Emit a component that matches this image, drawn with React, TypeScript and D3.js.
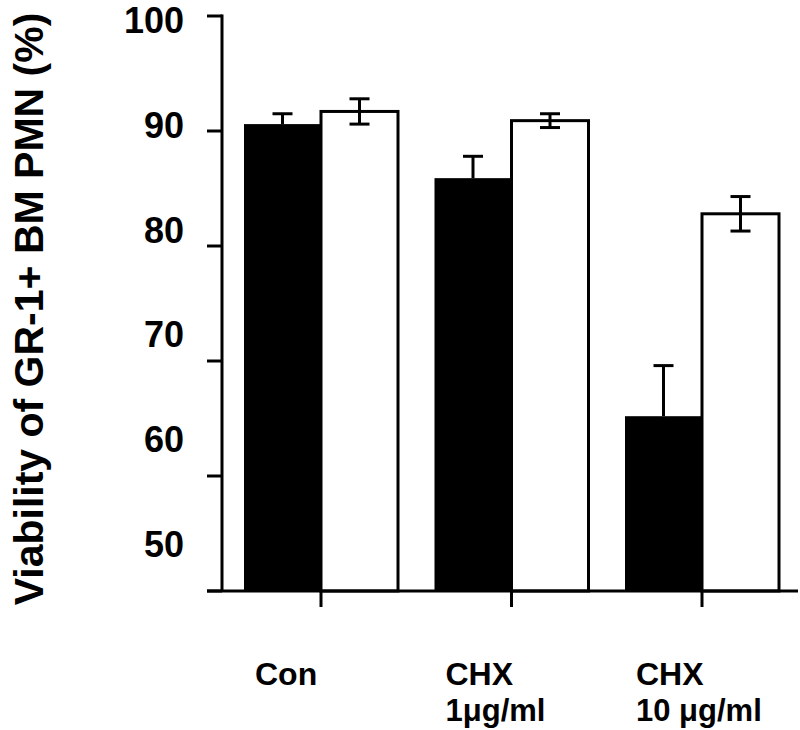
import React from "react";
import * as d3 from "d3";

const categories = ["Con", "CHX 1", "CHX 10"];
const labelLine1 = ["Con", "CHX", "CHX"];
const labelLine2 = ["", "1\u03bcg/ml", "10 \u03bcg/ml"];
const blackValues = [90.6, 85.9, 65.2];
const blackErrors = [0.9, 1.9, 4.4];
const whiteValues = [91.7, 90.9, 82.8];
const whiteErrors = [1.1, 0.6, 1.5];
const yTicks = [50, 60, 70, 80, 90, 100];
const yTitle = "Viability of GR-1+ BM PMN (%)";

const W = 800;
const H = 730;
const FONT = "'Liberation Sans', Arial, Helvetica, sans-serif";

export default function App() {
  const y = d3.scaleLinear().domain([50, 100]).range([591, 16]);
  // tick labels in the original are spaced slightly tighter than the ticks
  const yLabel = d3.scaleLinear().domain([50, 100]).range([544, 20]);
  const x = d3.scalePoint<string>().domain(categories).range([321, 702]);
  const barW = 77;
  const axisX = 222;
  const tickLen = 15;
  const capW = 20;
  const sw = 3;

  return (
    <svg
      width={W}
      height={H}
      style={{ position: "absolute", left: 0, top: 0, background: "#fff" }}
      fontFamily={FONT}
    >
      <rect x={0} y={0} width={W} height={H} fill="#fff" />
      {/* Y title */}
      <text
        transform={`translate(43, 309) rotate(-90)`}
        textAnchor="middle"
        fontSize={41}
        fontWeight="bold"
        fill="#000"
      >
        {yTitle}
      </text>
      {/* y tick labels */}
      {yTicks.map((t) => (
        <text
          key={"yl" + t}
          x={184}
          y={yLabel(t)}
          dy="0.36em"
          textAnchor="end"
          fontSize={36}
          fontWeight="bold"
          fill="#000"
        >
          {t}
        </text>
      ))}
      {/* bars: black */}
      {categories.map((c, i) => {
        const cx = x(c)!;
        const top = y(blackValues[i]);
        const errTop = y(blackValues[i] + blackErrors[i]);
        const ex = cx - barW / 2;
        return (
          <g key={"b" + c}>
            <rect x={cx - barW} y={top} width={barW} height={y(50) - top} fill="#000" />
            <line x1={ex} x2={ex} y1={top} y2={errTop} stroke="#000" strokeWidth={sw} />
            <line x1={ex - capW / 2} x2={ex + capW / 2} y1={errTop} y2={errTop} stroke="#000" strokeWidth={sw} />
          </g>
        );
      })}
      {/* bars: white */}
      {categories.map((c, i) => {
        const cx = x(c)!;
        const top = y(whiteValues[i]);
        const errTop = y(whiteValues[i] + whiteErrors[i]);
        const errBot = y(whiteValues[i] - whiteErrors[i]);
        const ex = cx + barW / 2;
        return (
          <g key={"w" + c}>
            <rect
              x={cx}
              y={top}
              width={barW}
              height={y(50) - top}
              fill="#fff"
              stroke="#000"
              strokeWidth={sw}
            />
            <line x1={ex} x2={ex} y1={errBot} y2={errTop} stroke="#000" strokeWidth={sw} />
            <line x1={ex - capW / 2} x2={ex + capW / 2} y1={errTop} y2={errTop} stroke="#000" strokeWidth={sw} />
            <line x1={ex - capW / 2} x2={ex + capW / 2} y1={errBot} y2={errBot} stroke="#000" strokeWidth={sw} />
          </g>
        );
      })}
      {/* y axis */}
      <line x1={axisX} x2={axisX} y1={y(100) - 1.5} y2={y(50)} stroke="#000" strokeWidth={sw} />
      {yTicks.map((t) => (
        <line
          key={"yt" + t}
          x1={axisX - tickLen}
          x2={axisX}
          y1={y(t)}
          y2={y(t)}
          stroke="#000"
          strokeWidth={sw}
        />
      ))}
      {/* x axis */}
      <line x1={axisX - tickLen} x2={798} y1={y(50)} y2={y(50)} stroke="#000" strokeWidth={sw} />
      {categories.map((c) => (
        <line
          key={"xt" + c}
          x1={x(c)!}
          x2={x(c)!}
          y1={y(50)}
          y2={y(50) + 16}
          stroke="#000"
          strokeWidth={sw}
        />
      ))}
      {/* category labels */}
      {categories.map((c, i) => (
        <g key={"cl" + c}>
          <text x={x(c)! - 66} y={685} fontSize={32} fontWeight="bold" fill="#000">
            {labelLine1[i]}
          </text>
          <text x={x(c)! - 66} y={721} fontSize={31} fontWeight="bold" fill="#000">
            {labelLine2[i]}
          </text>
        </g>
      ))}
    </svg>
  );
}
